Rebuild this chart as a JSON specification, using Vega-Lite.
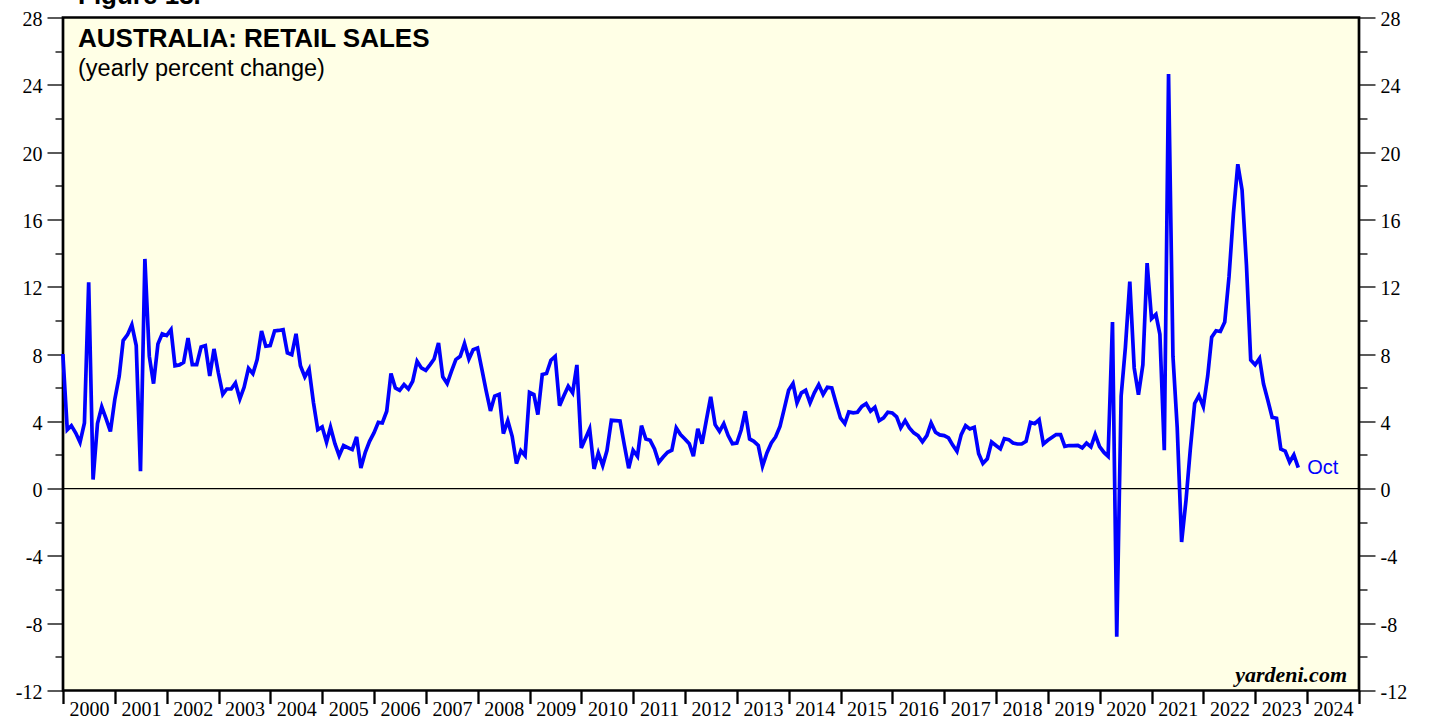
{
  "$schema": "https://vega.github.io/schema/vega-lite/v6.json",
  "width": 1296,
  "height": 673,
  "autosize": {"type": "none"},
  "padding": {"left": 63, "top": 17.5, "right": 70, "bottom": 28.5},
  "background": "white",
  "config": {"view": {"fill": "#FFFFE6", "stroke": "black", "strokeWidth": 2.7}},
  "datasets": {
    "sales": [
      {"date": "1999-12-31", "value": 8.0},
      {"date": "2000-01-31", "value": 3.5}, {"date": "2000-02-29", "value": 3.74}, {"date": "2000-03-31", "value": 3.3}, {"date": "2000-04-30", "value": 2.75}, {"date": "2000-05-31", "value": 3.9}, {"date": "2000-06-30", "value": 12.26}, {"date": "2000-07-31", "value": 0.54}, {"date": "2000-08-31", "value": 3.86}, {"date": "2000-09-30", "value": 4.86}, {"date": "2000-10-31", "value": 4.14}, {"date": "2000-11-30", "value": 3.4}, {"date": "2000-12-31", "value": 5.3},
      {"date": "2001-01-31", "value": 6.68}, {"date": "2001-02-28", "value": 8.8}, {"date": "2001-03-31", "value": 9.15}, {"date": "2001-04-30", "value": 9.73}, {"date": "2001-05-31", "value": 8.5}, {"date": "2001-06-30", "value": 1.03}, {"date": "2001-07-31", "value": 13.65}, {"date": "2001-08-31", "value": 7.87}, {"date": "2001-09-30", "value": 6.24}, {"date": "2001-10-31", "value": 8.6}, {"date": "2001-11-30", "value": 9.2}, {"date": "2001-12-31", "value": 9.1},
      {"date": "2002-01-31", "value": 9.45}, {"date": "2002-02-28", "value": 7.3}, {"date": "2002-03-31", "value": 7.35}, {"date": "2002-04-30", "value": 7.5}, {"date": "2002-05-31", "value": 8.95}, {"date": "2002-06-30", "value": 7.37}, {"date": "2002-07-31", "value": 7.37}, {"date": "2002-08-31", "value": 8.42}, {"date": "2002-09-30", "value": 8.5}, {"date": "2002-10-31", "value": 6.7}, {"date": "2002-11-30", "value": 8.3}, {"date": "2002-12-31", "value": 6.87},
      {"date": "2003-01-31", "value": 5.6}, {"date": "2003-02-28", "value": 5.92}, {"date": "2003-03-31", "value": 5.92}, {"date": "2003-04-30", "value": 6.28}, {"date": "2003-05-31", "value": 5.33}, {"date": "2003-06-30", "value": 6.02}, {"date": "2003-07-31", "value": 7.15}, {"date": "2003-08-31", "value": 6.83}, {"date": "2003-09-30", "value": 7.67}, {"date": "2003-10-31", "value": 9.37}, {"date": "2003-11-30", "value": 8.46}, {"date": "2003-12-31", "value": 8.5},
      {"date": "2004-01-31", "value": 9.37}, {"date": "2004-02-29", "value": 9.4}, {"date": "2004-03-31", "value": 9.45}, {"date": "2004-04-30", "value": 8.07}, {"date": "2004-05-31", "value": 7.96}, {"date": "2004-06-30", "value": 9.2}, {"date": "2004-07-31", "value": 7.3}, {"date": "2004-08-31", "value": 6.64}, {"date": "2004-09-30", "value": 7.1}, {"date": "2004-10-31", "value": 5.1}, {"date": "2004-11-30", "value": 3.5}, {"date": "2004-12-31", "value": 3.67},
      {"date": "2005-01-31", "value": 2.75}, {"date": "2005-02-28", "value": 3.65}, {"date": "2005-03-31", "value": 2.67}, {"date": "2005-04-30", "value": 1.96}, {"date": "2005-05-31", "value": 2.56}, {"date": "2005-06-30", "value": 2.44}, {"date": "2005-07-31", "value": 2.32}, {"date": "2005-08-31", "value": 3.07}, {"date": "2005-09-30", "value": 1.23}, {"date": "2005-10-31", "value": 2.16}, {"date": "2005-11-30", "value": 2.81}, {"date": "2005-12-31", "value": 3.31},
      {"date": "2006-01-31", "value": 3.94}, {"date": "2006-02-28", "value": 3.9}, {"date": "2006-03-31", "value": 4.6}, {"date": "2006-04-30", "value": 6.84}, {"date": "2006-05-31", "value": 5.98}, {"date": "2006-06-30", "value": 5.84}, {"date": "2006-07-31", "value": 6.18}, {"date": "2006-08-31", "value": 5.92}, {"date": "2006-09-30", "value": 6.38}, {"date": "2006-10-31", "value": 7.57}, {"date": "2006-11-30", "value": 7.17}, {"date": "2006-12-31", "value": 7.03},
      {"date": "2007-01-31", "value": 7.37}, {"date": "2007-02-28", "value": 7.7}, {"date": "2007-03-31", "value": 8.66}, {"date": "2007-04-30", "value": 6.64}, {"date": "2007-05-31", "value": 6.24}, {"date": "2007-06-30", "value": 6.97}, {"date": "2007-07-31", "value": 7.67}, {"date": "2007-08-31", "value": 7.86}, {"date": "2007-09-30", "value": 8.62}, {"date": "2007-10-31", "value": 7.7}, {"date": "2007-11-30", "value": 8.26}, {"date": "2007-12-31", "value": 8.36},
      {"date": "2008-01-31", "value": 7.07}, {"date": "2008-02-29", "value": 5.84}, {"date": "2008-03-31", "value": 4.62}, {"date": "2008-04-30", "value": 5.5}, {"date": "2008-05-31", "value": 5.6}, {"date": "2008-06-30", "value": 3.27}, {"date": "2008-07-31", "value": 4.04}, {"date": "2008-08-31", "value": 3.11}, {"date": "2008-09-30", "value": 1.49}, {"date": "2008-10-31", "value": 2.26}, {"date": "2008-11-30", "value": 1.96}, {"date": "2008-12-31", "value": 5.72},
      {"date": "2009-01-31", "value": 5.59}, {"date": "2009-02-28", "value": 4.4}, {"date": "2009-03-31", "value": 6.78}, {"date": "2009-04-30", "value": 6.84}, {"date": "2009-05-31", "value": 7.63}, {"date": "2009-06-30", "value": 7.86}, {"date": "2009-07-31", "value": 4.93}, {"date": "2009-08-31", "value": 5.53}, {"date": "2009-09-30", "value": 6.08}, {"date": "2009-10-31", "value": 5.69}, {"date": "2009-11-30", "value": 7.35}, {"date": "2009-12-31", "value": 2.42},
      {"date": "2010-01-31", "value": 3.01}, {"date": "2010-02-28", "value": 3.55}, {"date": "2010-03-31", "value": 1.17}, {"date": "2010-04-30", "value": 2.12}, {"date": "2010-05-31", "value": 1.37}, {"date": "2010-06-30", "value": 2.26}, {"date": "2010-07-31", "value": 4.06}, {"date": "2010-08-31", "value": 4.04}, {"date": "2010-09-30", "value": 4.02}, {"date": "2010-10-31", "value": 2.56}, {"date": "2010-11-30", "value": 1.21}, {"date": "2010-12-31", "value": 2.28},
      {"date": "2011-01-31", "value": 1.92}, {"date": "2011-02-28", "value": 3.74}, {"date": "2011-03-31", "value": 2.95}, {"date": "2011-04-30", "value": 2.87}, {"date": "2011-05-31", "value": 2.36}, {"date": "2011-06-30", "value": 1.56}, {"date": "2011-07-31", "value": 1.88}, {"date": "2011-08-31", "value": 2.16}, {"date": "2011-09-30", "value": 2.28}, {"date": "2011-10-31", "value": 3.61}, {"date": "2011-11-30", "value": 3.21}, {"date": "2011-12-31", "value": 2.95},
      {"date": "2012-01-31", "value": 2.67}, {"date": "2012-02-29", "value": 1.92}, {"date": "2012-03-31", "value": 3.55}, {"date": "2012-04-30", "value": 2.67}, {"date": "2012-05-31", "value": 4.1}, {"date": "2012-06-30", "value": 5.45}, {"date": "2012-07-31", "value": 3.8}, {"date": "2012-08-31", "value": 3.4}, {"date": "2012-09-30", "value": 3.86}, {"date": "2012-10-31", "value": 3.15}, {"date": "2012-11-30", "value": 2.67}, {"date": "2012-12-31", "value": 2.71},
      {"date": "2013-01-31", "value": 3.5}, {"date": "2013-02-28", "value": 4.6}, {"date": "2013-03-31", "value": 2.95}, {"date": "2013-04-30", "value": 2.81}, {"date": "2013-05-31", "value": 2.56}, {"date": "2013-06-30", "value": 1.33}, {"date": "2013-07-31", "value": 2.12}, {"date": "2013-08-31", "value": 2.71}, {"date": "2013-09-30", "value": 3.07}, {"date": "2013-10-31", "value": 3.7}, {"date": "2013-11-30", "value": 4.74}, {"date": "2013-12-31", "value": 5.84},
      {"date": "2014-01-31", "value": 6.24}, {"date": "2014-02-28", "value": 5.09}, {"date": "2014-03-31", "value": 5.69}, {"date": "2014-04-30", "value": 5.84}, {"date": "2014-05-31", "value": 5.09}, {"date": "2014-06-30", "value": 5.69}, {"date": "2014-07-31", "value": 6.18}, {"date": "2014-08-31", "value": 5.59}, {"date": "2014-09-30", "value": 6.02}, {"date": "2014-10-31", "value": 5.98}, {"date": "2014-11-30", "value": 5.09}, {"date": "2014-12-31", "value": 4.2},
      {"date": "2015-01-31", "value": 3.86}, {"date": "2015-02-28", "value": 4.56}, {"date": "2015-03-31", "value": 4.5}, {"date": "2015-04-30", "value": 4.54}, {"date": "2015-05-31", "value": 4.89}, {"date": "2015-06-30", "value": 5.05}, {"date": "2015-07-31", "value": 4.6}, {"date": "2015-08-31", "value": 4.83}, {"date": "2015-09-30", "value": 4.04}, {"date": "2015-10-31", "value": 4.2}, {"date": "2015-11-30", "value": 4.54}, {"date": "2015-12-31", "value": 4.5},
      {"date": "2016-01-31", "value": 4.26}, {"date": "2016-02-29", "value": 3.61}, {"date": "2016-03-31", "value": 4.04}, {"date": "2016-04-30", "value": 3.61}, {"date": "2016-05-31", "value": 3.31}, {"date": "2016-06-30", "value": 3.15}, {"date": "2016-07-31", "value": 2.78}, {"date": "2016-08-31", "value": 3.15}, {"date": "2016-09-30", "value": 3.9}, {"date": "2016-10-31", "value": 3.35}, {"date": "2016-11-30", "value": 3.19}, {"date": "2016-12-31", "value": 3.15},
      {"date": "2017-01-31", "value": 3.01}, {"date": "2017-02-28", "value": 2.6}, {"date": "2017-03-31", "value": 2.22}, {"date": "2017-04-30", "value": 3.21}, {"date": "2017-05-31", "value": 3.74}, {"date": "2017-06-30", "value": 3.55}, {"date": "2017-07-31", "value": 3.65}, {"date": "2017-08-31", "value": 2.08}, {"date": "2017-09-30", "value": 1.49}, {"date": "2017-10-31", "value": 1.77}, {"date": "2017-11-30", "value": 2.77}, {"date": "2017-12-31", "value": 2.56},
      {"date": "2018-01-31", "value": 2.36}, {"date": "2018-02-28", "value": 2.97}, {"date": "2018-03-31", "value": 2.91}, {"date": "2018-04-30", "value": 2.71}, {"date": "2018-05-31", "value": 2.65}, {"date": "2018-06-30", "value": 2.65}, {"date": "2018-07-31", "value": 2.81}, {"date": "2018-08-31", "value": 3.94}, {"date": "2018-09-30", "value": 3.86}, {"date": "2018-10-31", "value": 4.1}, {"date": "2018-11-30", "value": 2.65}, {"date": "2018-12-31", "value": 2.87},
      {"date": "2019-01-31", "value": 3.05}, {"date": "2019-02-28", "value": 3.21}, {"date": "2019-03-31", "value": 3.21}, {"date": "2019-04-30", "value": 2.51}, {"date": "2019-05-31", "value": 2.56}, {"date": "2019-06-30", "value": 2.56}, {"date": "2019-07-31", "value": 2.57}, {"date": "2019-08-31", "value": 2.42}, {"date": "2019-09-30", "value": 2.71}, {"date": "2019-10-31", "value": 2.48}, {"date": "2019-11-30", "value": 3.21}, {"date": "2019-12-31", "value": 2.5},
      {"date": "2020-01-31", "value": 2.15}, {"date": "2020-02-29", "value": 1.92}, {"date": "2020-03-31", "value": 9.9}, {"date": "2020-04-30", "value": -8.8}, {"date": "2020-05-31", "value": 5.5}, {"date": "2020-06-30", "value": 8.4}, {"date": "2020-07-31", "value": 12.3}, {"date": "2020-08-31", "value": 7.17}, {"date": "2020-09-30", "value": 5.58}, {"date": "2020-10-31", "value": 7.36}, {"date": "2020-11-30", "value": 13.4}, {"date": "2020-12-31", "value": 10.1},
      {"date": "2021-01-31", "value": 10.35}, {"date": "2021-02-28", "value": 9.17}, {"date": "2021-03-31", "value": 2.28}, {"date": "2021-04-30", "value": 24.64}, {"date": "2021-05-31", "value": 7.87}, {"date": "2021-06-30", "value": 3.64}, {"date": "2021-07-31", "value": -3.17}, {"date": "2021-08-31", "value": -0.7}, {"date": "2021-09-30", "value": 2.3}, {"date": "2021-10-31", "value": 5.06}, {"date": "2021-11-30", "value": 5.53}, {"date": "2021-12-31", "value": 4.87},
      {"date": "2022-01-31", "value": 6.7}, {"date": "2022-02-28", "value": 9.0}, {"date": "2022-03-31", "value": 9.38}, {"date": "2022-04-30", "value": 9.34}, {"date": "2022-05-31", "value": 9.9}, {"date": "2022-06-30", "value": 12.58}, {"date": "2022-07-31", "value": 16.34}, {"date": "2022-08-31", "value": 19.28}, {"date": "2022-09-30", "value": 17.75}, {"date": "2022-10-31", "value": 13.28}, {"date": "2022-11-30", "value": 7.64}, {"date": "2022-12-31", "value": 7.36},
      {"date": "2023-01-31", "value": 7.74}, {"date": "2023-02-28", "value": 6.23}, {"date": "2023-03-31", "value": 5.24}, {"date": "2023-04-30", "value": 4.23}, {"date": "2023-05-31", "value": 4.18}, {"date": "2023-06-30", "value": 2.35}, {"date": "2023-07-31", "value": 2.23}, {"date": "2023-08-31", "value": 1.58}, {"date": "2023-09-30", "value": 2.0}, {"date": "2023-10-31", "value": 1.25}
    ],
    "notes": [{"title": "AUSTRALIA: RETAIL SALES", "subtitle": "(yearly percent change)", "figure": "Figure 13.", "source": "yardeni.com"}]
  },
  "layer": [
    {
      "data": {"name": "notes"},
      "mark": {"type": "rule", "color": "black", "strokeWidth": 1.2},
      "encoding": {"y": {"datum": 0, "type": "quantitative", "axis": null}}
    },
    {
      "data": {"name": "sales"},
      "mark": {"type": "line", "color": "#0000FF", "strokeWidth": 3.7},
      "encoding": {
        "x": {
          "field": "date", "type": "temporal",
          "scale": {"type": "utc", "domain": [{"year": 2000, "utc": true}, {"year": 2025, "utc": true}]},
          "axis": {
            "values": [{"year": 2000, "utc": true}, {"year": 2001, "utc": true}, {"year": 2002, "utc": true}, {"year": 2003, "utc": true}, {"year": 2004, "utc": true}, {"year": 2005, "utc": true}, {"year": 2006, "utc": true}, {"year": 2007, "utc": true}, {"year": 2008, "utc": true}, {"year": 2009, "utc": true}, {"year": 2010, "utc": true}, {"year": 2011, "utc": true}, {"year": 2012, "utc": true}, {"year": 2013, "utc": true}, {"year": 2014, "utc": true}, {"year": 2015, "utc": true}, {"year": 2016, "utc": true}, {"year": 2017, "utc": true}, {"year": 2018, "utc": true}, {"year": 2019, "utc": true}, {"year": 2020, "utc": true}, {"year": 2021, "utc": true}, {"year": 2022, "utc": true}, {"year": 2023, "utc": true}, {"year": 2024, "utc": true}, {"year": 2025, "utc": true}],
            "title": null, "domain": false, "grid": false,
            "tickSize": 13, "tickWidth": 2.3, "tickColor": "black",
            "labelFont": "Liberation Serif", "labelFontSize": 20, "labelColor": "black",
            "labelOffset": 26, "labelAlign": "center", "labelBaseline": "alphabetic", "labelPadding": 12,
            "labelOverlap": false, "labelFlush": false, "labelBound": false,
            "labelExpr": "utcFormat(datum.value, '%Y') == '2025' ? '' : utcFormat(datum.value, '%Y')"
          }
        },
        "y": {
          "field": "value", "type": "quantitative",
          "scale": {"domain": [-12, 28], "nice": false, "zero": false},
          "axis": {
            "orient": "left",
            "values": [-12, -10, -8, -6, -4, -2, 0, 2, 4, 6, 8, 10, 12, 14, 16, 18, 20, 22, 24, 26, 28],
            "title": null, "domain": false, "grid": false,
            "tickColor": "black", "tickWidth": 1.3,
            "tickSize": {"condition": {"test": "datum.value % 4 == 0", "value": 16}, "value": 8},
            "labelExpr": "datum.value % 4 == 0 ? '' + datum.value : ''",
            "labelFont": "Liberation Serif", "labelFontSize": 20, "labelColor": "black",
            "labelPadding": 5, "labelOffset": 2, "labelOverlap": false
          }
        }
      }
    },
    {
      "data": {"name": "sales"},
      "transform": [{"filter": "utcyear(datum.date) == 2023 && utcmonth(datum.date) == 9"}],
      "mark": {"type": "text", "text": "Oct", "color": "#0000FF", "font": "Liberation Sans", "fontSize": 20, "align": "left", "baseline": "middle", "dx": 9},
      "encoding": {
        "x": {"field": "date", "type": "temporal"},
        "y": {
          "field": "value", "type": "quantitative",
          "axis": {
            "orient": "right",
            "values": [-12, -10, -8, -6, -4, -2, 0, 2, 4, 6, 8, 10, 12, 14, 16, 18, 20, 22, 24, 26, 28],
            "title": null, "domain": false, "grid": false,
            "tickColor": "black", "tickWidth": 1.3,
            "tickSize": {"condition": {"test": "datum.value % 4 == 0", "value": 16}, "value": 8},
            "labelExpr": "datum.value % 4 == 0 ? '' + datum.value : ''",
            "labelFont": "Liberation Serif", "labelFontSize": 20, "labelColor": "black",
            "labelPadding": 5, "labelOffset": 2, "labelOverlap": false
          }
        }
      }
    },
    {
      "data": {"name": "notes"},
      "mark": {"type": "text", "font": "Liberation Serif", "fontSize": 22, "fontWeight": "bold", "fontStyle": "italic", "color": "black", "align": "right", "baseline": "alphabetic", "dx": -12, "dy": -9},
      "encoding": {
        "text": {"field": "source"},
        "x": {"datum": {"year": 2025, "utc": true}, "type": "temporal"},
        "y": {"datum": -12, "type": "quantitative", "axis": null}
      }
    },
    {
      "data": {"name": "notes"},
      "mark": {"type": "text", "font": "Liberation Sans", "fontSize": 26, "fontWeight": "bold", "color": "black", "align": "left", "baseline": "alphabetic", "dx": 15, "dy": 29.5},
      "encoding": {
        "text": {"field": "title"},
        "x": {"datum": {"year": 2000, "utc": true}, "type": "temporal"},
        "y": {"datum": 28, "type": "quantitative", "axis": null}
      }
    },
    {
      "data": {"name": "notes"},
      "mark": {"type": "text", "font": "Liberation Sans", "fontSize": 23.5, "color": "black", "align": "left", "baseline": "alphabetic", "dx": 15, "dy": 58.5},
      "encoding": {
        "text": {"field": "subtitle"},
        "x": {"datum": {"year": 2000, "utc": true}, "type": "temporal"},
        "y": {"datum": 28, "type": "quantitative", "axis": null}
      }
    },
    {
      "data": {"name": "notes"},
      "mark": {"type": "text", "font": "Liberation Sans", "fontSize": 26, "fontWeight": "bold", "color": "black", "align": "left", "baseline": "alphabetic", "dx": 15, "dy": -13.5},
      "encoding": {
        "text": {"field": "figure"},
        "x": {"datum": {"year": 2000, "utc": true}, "type": "temporal"},
        "y": {"datum": 28, "type": "quantitative", "axis": null}
      }
    }
  ],
  "resolve": {"axis": {"y": "independent"}}
}
